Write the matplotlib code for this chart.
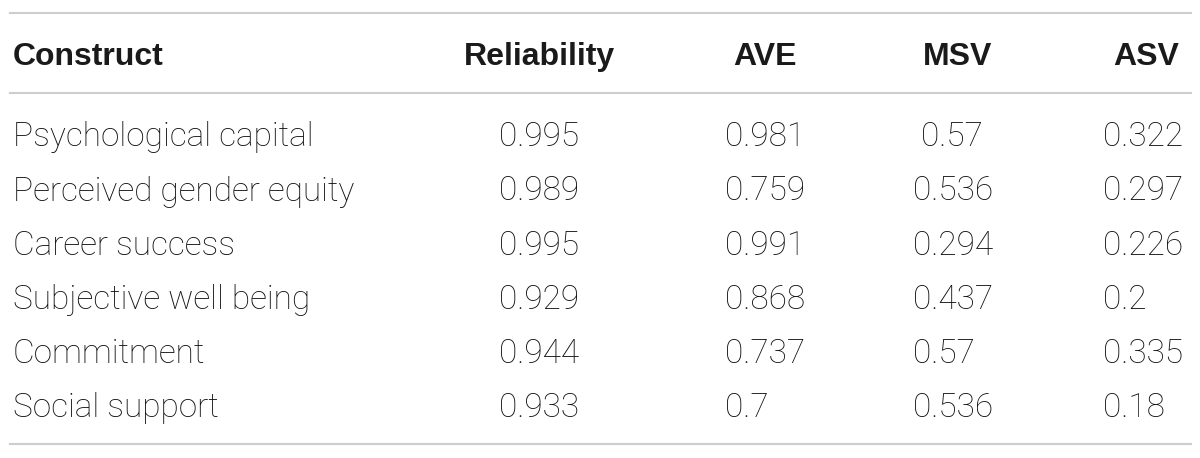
import matplotlib
matplotlib.use('Agg')
from matplotlib import pyplot as plt

headers = ['Construct', 'Reliability', 'AVE', 'MSV', 'ASV']
constructs = ['Psychological capital', 'Perceived gender equity', 'Career success',
              'Subjective well being', 'Commitment', 'Social support']
reliability = ['0.995', '0.989', '0.995', '0.929', '0.944', '0.933']
ave = ['0.981', '0.759', '0.991', '0.868', '0.737', '0.7']
msv = [' 0.57', '0.536', '0.294', '0.437', '0.57', '0.536']
asv = ['0.322', '0.297', '0.226', '0.2', '0.335', '0.18']

W, H = 1200, 458
fig = plt.figure(figsize=(12, 4.58), dpi=100)
fig.patch.set_facecolor('white')

def fx(x): return x / W
def fy(y): return 1 - y / H

# rules: top, under header, bottom
for y in [13, 93, 444]:
    fig.add_artist(plt.Line2D([fx(10), fx(1191)], [fy(y), fy(y)], color='#cdcdcd', lw=1.5))

# header: first column left aligned, the rest right aligned
head_y = 65
fig.text(fx(13), fy(head_y), headers[0], fontsize=23, fontweight='bold',
         family='Liberation Sans', color='#1a1a1a', ha='left', va='baseline')
for xr, h in zip([615, 797, 992, 1179], headers[1:]):
    fig.text(fx(xr), fy(head_y), h, fontsize=23, fontweight='bold',
             family='Liberation Sans', color='#1a1a1a', ha='right', va='baseline')

val_x = [13, 499, 725, 913, 1103]
row_y = [146, 200.5, 254.5, 309, 363, 417]
cols = [constructs, reliability, ave, msv, asv]
for x, col in zip(val_x, cols):
    for y, v in zip(row_y, col):
        fig.text(fx(x), fy(y), v, fontsize=24, fontweight='light', family='Roboto',
                 color='#111111', ha='left', va='baseline')

plt.savefig('out.png', dpi=100)
